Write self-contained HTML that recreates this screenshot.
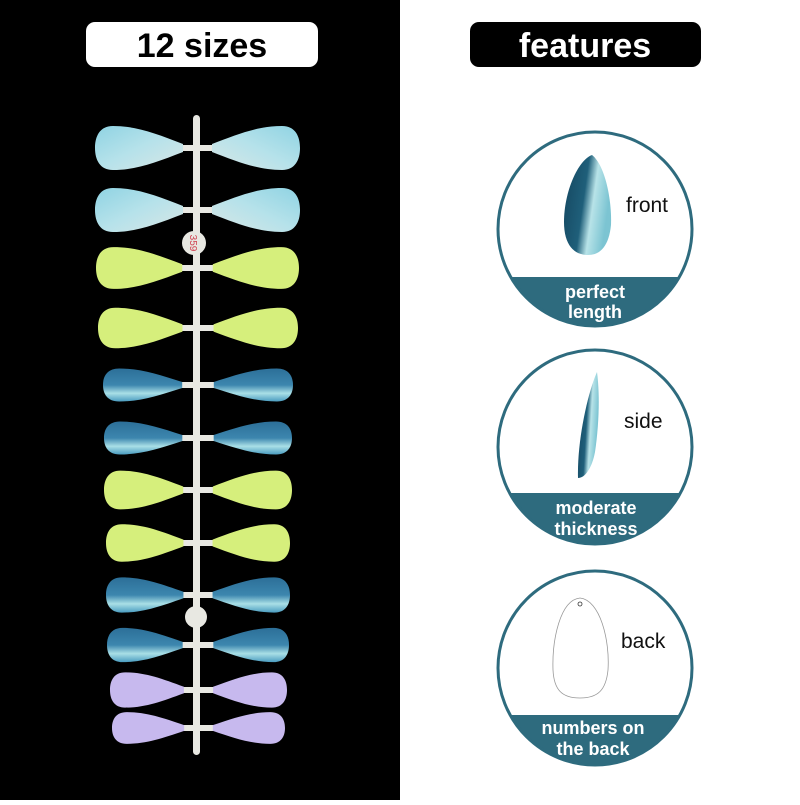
<!DOCTYPE html>
<html><head><style>
body{margin:0;width:800px;height:800px;overflow:hidden;background:#fff;font-family:"Liberation Sans","DejaVu Sans",sans-serif}
</style></head><body>
<svg width="800" height="800" viewBox="0 0 800 800" xmlns="http://www.w3.org/2000/svg">
<defs>
<path id="n" d="M88,-4 C62,-14 42,-22 18,-22 C5,-22 0,-12 0,0 C0,12 5,22 18,22 C42,22 62,14 88,4 Z"/>
<linearGradient id="lb" x1="0" y1="0" x2="1" y2="1"><stop offset="0" stop-color="#8fd3e3"/><stop offset="0.5" stop-color="#b6e2ea"/><stop offset="1" stop-color="#d8e6e6"/></linearGradient>
<linearGradient id="db" x1="0" y1="0" x2="0" y2="1"><stop offset="0" stop-color="#2c6f98"/><stop offset="0.5" stop-color="#3c86ae"/><stop offset="0.75" stop-color="#a9dfe6"/><stop offset="1" stop-color="#4a9cc0"/></linearGradient>
<linearGradient id="fr" x1="0" y1="0" x2="1" y2="0.3"><stop offset="0" stop-color="#14455e"/><stop offset="0.5" stop-color="#1f5f7a"/><stop offset="0.7" stop-color="#b8e3e8"/><stop offset="1" stop-color="#7cc4d2"/></linearGradient>
<clipPath id="c1"><circle cx="595" cy="229" r="97"/></clipPath>
<clipPath id="c2"><circle cx="595" cy="447" r="97"/></clipPath>
<clipPath id="c3"><circle cx="595" cy="668" r="97"/></clipPath>
</defs>
<rect x="0" y="0" width="400" height="800" fill="#000"/>
<rect x="86" y="22" width="232" height="45" rx="9" fill="#fff"/>
<text x="202" y="57" font-size="34" font-weight="bold" text-anchor="middle" fill="#000">12 sizes</text>
<rect x="470" y="22" width="231" height="45" rx="9" fill="#000"/>
<text x="585" y="57" font-size="34" font-weight="bold" text-anchor="middle" fill="#fff">features</text>

<rect x="193" y="115" width="7" height="640" rx="3.5" fill="#e8e8e2"/>
<g fill="#e8e8e2">
<rect x="170" y="145" width="52" height="6"/><rect x="170" y="207" width="52" height="6"/>
<rect x="170" y="265" width="52" height="6"/><rect x="170" y="325" width="52" height="6"/>
<rect x="170" y="382" width="52" height="6"/><rect x="170" y="435" width="52" height="6"/>
<rect x="170" y="487" width="52" height="6"/><rect x="170" y="540" width="52" height="6"/>
<rect x="170" y="592" width="52" height="6"/><rect x="170" y="642" width="52" height="6"/>
<rect x="170" y="687" width="52" height="6"/><rect x="170" y="725" width="52" height="6"/>
<circle cx="194" cy="243" r="12"/><circle cx="196" cy="617" r="11"/>
</g>
<text x="194" y="243" font-size="10" fill="#d04050" text-anchor="middle" transform="rotate(90 194 243)" dy="4">359</text>

<g>
<use href="#n" fill="url(#lb)" transform="translate(95,148)"/><use href="#n" fill="url(#lb)" transform="translate(300,148) scale(-1,1)"/>
<use href="#n" fill="url(#lb)" transform="translate(95,210)"/><use href="#n" fill="url(#lb)" transform="translate(300,210) scale(-1,1)"/>
<use href="#n" fill="#d6ef7c" transform="translate(96,268) scale(0.98,0.95)"/><use href="#n" fill="#d6ef7c" transform="translate(299,268) scale(-0.98,0.95)"/>
<use href="#n" fill="#d6ef7c" transform="translate(98,328) scale(0.96,0.92)"/><use href="#n" fill="#d6ef7c" transform="translate(298,328) scale(-0.96,0.92)"/>
<use href="#n" fill="url(#db)" transform="translate(103,385) scale(0.9,0.75)"/><use href="#n" fill="url(#db)" transform="translate(293,385) scale(-0.9,0.75)"/>
<use href="#n" fill="url(#db)" transform="translate(104,438) scale(0.89,0.75)"/><use href="#n" fill="url(#db)" transform="translate(292,438) scale(-0.89,0.75)"/>
<use href="#n" fill="#d6ef7c" transform="translate(104,490) scale(0.9,0.88)"/><use href="#n" fill="#d6ef7c" transform="translate(292,490) scale(-0.9,0.88)"/>
<use href="#n" fill="#d6ef7c" transform="translate(106,543) scale(0.88,0.85)"/><use href="#n" fill="#d6ef7c" transform="translate(290,543) scale(-0.88,0.85)"/>
<use href="#n" fill="url(#db)" transform="translate(106,595) scale(0.88,0.8)"/><use href="#n" fill="url(#db)" transform="translate(290,595) scale(-0.88,0.8)"/>
<use href="#n" fill="url(#db)" transform="translate(107,645) scale(0.86,0.78)"/><use href="#n" fill="url(#db)" transform="translate(289,645) scale(-0.86,0.78)"/>
<use href="#n" fill="#c7b9ee" transform="translate(110,690) scale(0.84,0.8)"/><use href="#n" fill="#c7b9ee" transform="translate(287,690) scale(-0.84,0.8)"/>
<use href="#n" fill="#c7b9ee" transform="translate(112,728) scale(0.82,0.72)"/><use href="#n" fill="#c7b9ee" transform="translate(285,728) scale(-0.82,0.72)"/>
</g>

<!-- circle 1 -->
<rect x="490" y="277" width="210" height="60" fill="#2e6b7e" clip-path="url(#c1)"/>
<circle cx="595" cy="229" r="97" fill="none" stroke="#2e6b7e" stroke-width="3"/>
<path d="M592,155 C605,165 612,200 611,225 C609,245 601,255 588,255 C574,255 564,245 564,222 C564,192 578,160 592,155 Z" fill="url(#fr)"/>
<text x="626" y="212" font-size="21" fill="#111">front</text>
<text x="595" y="298" font-size="18" font-weight="bold" fill="#fff" text-anchor="middle">perfect</text>
<text x="595" y="318" font-size="18" font-weight="bold" fill="#fff" text-anchor="middle">length</text>

<!-- circle 2 -->
<rect x="490" y="493" width="210" height="60" fill="#2e6b7e" clip-path="url(#c2)"/>
<circle cx="595" cy="447" r="97" fill="none" stroke="#2e6b7e" stroke-width="3"/>
<path d="M597,372 C588,392 577,440 578,478 C585,478 592,468 595,452 C599,425 600,395 597,372 Z" fill="url(#fr)"/>
<text x="624" y="428" font-size="21" fill="#111">side</text>
<text x="596" y="514" font-size="18" font-weight="bold" fill="#fff" text-anchor="middle">moderate</text>
<text x="596" y="535" font-size="18" font-weight="bold" fill="#fff" text-anchor="middle">thickness</text>

<!-- circle 3 -->
<rect x="490" y="715" width="210" height="60" fill="#2e6b7e" clip-path="url(#c3)"/>
<circle cx="595" cy="668" r="97" fill="none" stroke="#2e6b7e" stroke-width="3"/>
<path d="M580,598 C600,600 610,640 608,670 C606,690 598,698 580,698 C562,698 554,690 553,670 C552,640 560,600 580,598 Z" fill="#fff" stroke="#999" stroke-width="0.8"/>
<circle cx="580" cy="604" r="2" fill="none" stroke="#333" stroke-width="0.8"/>
<text x="621" y="648" font-size="21" fill="#111">back</text>
<text x="593" y="734" font-size="18" font-weight="bold" fill="#fff" text-anchor="middle">numbers on</text>
<text x="593" y="755" font-size="18" font-weight="bold" fill="#fff" text-anchor="middle">the back</text>
</svg>
</body></html>
